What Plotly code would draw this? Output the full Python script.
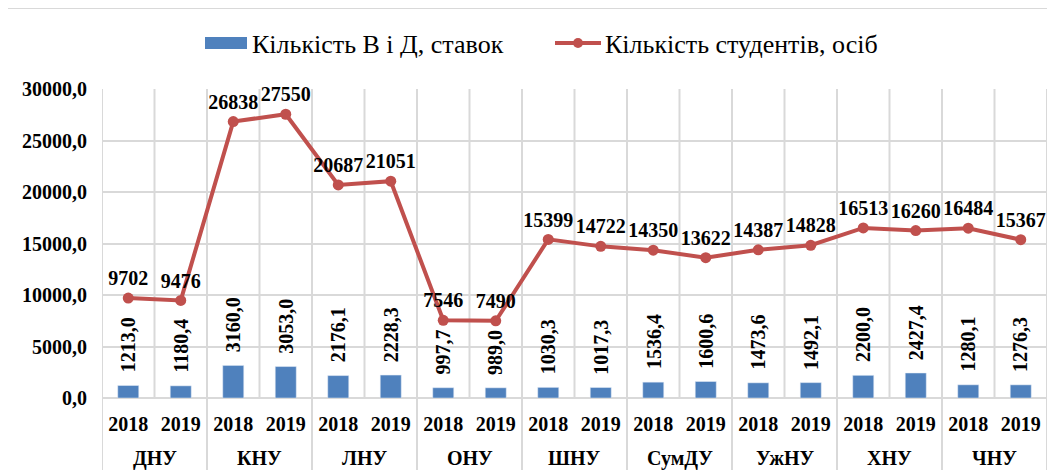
import plotly.graph_objects as go

universities = ["ДНУ", "КНУ", "ЛНУ", "ОНУ", "ШНУ", "СумДУ", "УжНУ", "ХНУ", "ЧНУ"]
years = ["2018", "2019"]
staff = [1213.0, 1180.4, 3160.0, 3053.0, 2176.1, 2228.3, 997.7, 989.0, 1030.3,
         1017.3, 1536.4, 1600.6, 1473.6, 1492.1, 2200.0, 2427.4, 1280.1, 1276.3]
students = [9702, 9476, 26838, 27550, 20687, 21051, 7546, 7490, 15399,
            14722, 14350, 13622, 14387, 14828, 16513, 16260, 16484, 15367]
y_ticks = [0, 5000, 10000, 15000, 20000, 25000, 30000]
legend_names = ["Кількість В і Д, ставок", "Кількість студентів, осіб"]

BAR_C = "#4F81BD"
LINE_C = "#C0504D"
GRID_C = "#D9D9D9"
FONT = "Liberation Serif"

OFF = 8  # page body margin
W, H = 1055 - OFF, 475 - OFF
L, R, T, B = 102 - OFF, 1047 - OFF, 89 - OFF, 398 - OFF
n = len(staff)
xs = list(range(n))
year_labels = [years[i % 2] for i in xs]


def xp(px):
    return (px - OFF - L) / (R - L)


def yp(py):
    return (B - (py - OFF)) / (B - T)


def bold_font(size):
    return dict(family=FONT, size=size, color="black", weight="bold")


fig = go.Figure()
fig.add_trace(go.Bar(
    x=xs, y=staff, width=0.4, marker_color=BAR_C, name=legend_names[0],
))
fig.add_trace(go.Scatter(
    x=xs, y=students, mode="lines+markers+text", name=legend_names[1],
    line=dict(color=LINE_C, width=4), marker=dict(color=LINE_C, size=11),
    text=[str(v) for v in students], textposition="top center", cliponaxis=False,
    textfont=bold_font(20),
))

shapes = []
for i in range(n + 1):
    bx = i - 0.5
    y0 = yp(470) if i % 2 == 0 else 0
    shapes.append(dict(type="line", xref="x", yref="paper", x0=bx, x1=bx,
                       y0=y0, y1=1, line=dict(color=GRID_C, width=2), layer="below"))
shapes.append(dict(type="rect", xref="paper", yref="paper",
                   x0=xp(7), x1=xp(1062), y0=yp(482), y1=yp(8),
                   line=dict(color=GRID_C, width=2), layer="below"))
shapes.append(dict(type="rect", xref="paper", yref="paper",
                   x0=xp(205), x1=xp(247), y0=yp(49), y1=yp(37),
                   fillcolor=BAR_C, line=dict(width=0)))
shapes.append(dict(type="line", xref="paper", yref="paper",
                   x0=xp(555), x1=xp(601), y0=yp(43), y1=yp(43),
                   line=dict(color=LINE_C, width=4)))
shapes.append(dict(type="circle", xref="paper", yref="paper",
                   x0=xp(573), x1=xp(583), y0=yp(48), y1=yp(38),
                   fillcolor=LINE_C, line=dict(width=0)))

annotations = []
annotations.append(dict(text=legend_names[0], xref="paper", yref="paper",
                        x=xp(250), y=yp(44), xanchor="left", yanchor="middle",
                        showarrow=False, font=dict(family=FONT, size=26, color="black")))
annotations.append(dict(text=legend_names[1], xref="paper", yref="paper",
                        x=xp(603), y=yp(44), xanchor="left", yanchor="middle",
                        showarrow=False, font=dict(family=FONT, size=26, color="black")))
for k, u in enumerate(universities):
    annotations.append(dict(text=u, xref="x", yref="paper", x=2 * k + 0.5, y=yp(458),
                            xanchor="center", yanchor="middle", showarrow=False,
                            font=bold_font(20)))
for i, v in enumerate(staff):
    annotations.append(dict(text=f"{v:.1f}".replace(".", ","), xref="x", yref="y",
                            x=i, y=v, xanchor="center", yanchor="bottom", yshift=11,
                            textangle=-90, showarrow=False, font=bold_font(20)))

fig.update_layout(
    width=W, height=H,
    margin=dict(l=L, r=W - R, t=T, b=H - B, pad=0),
    paper_bgcolor="white", plot_bgcolor="white",
    separators=", ",
    showlegend=False,
    shapes=shapes, annotations=annotations,
)
fig.update_xaxes(
    range=[-0.5, n - 0.5], tickvals=xs, ticktext=year_labels,
    showgrid=False, zeroline=False, showline=False, ticks="",
    tickfont=bold_font(20),
    ticklabelstandoff=12,
)
fig.update_yaxes(
    range=[0, 30000], tickvals=y_ticks, tickformat=".1f",
    showgrid=True, gridcolor=GRID_C, gridwidth=2,
    zeroline=True, zerolinecolor=GRID_C, zerolinewidth=2,
    showline=False, ticks="",
    tickfont=bold_font(20),
    ticklabelstandoff=14,
)

fig.write_html("out.html")
